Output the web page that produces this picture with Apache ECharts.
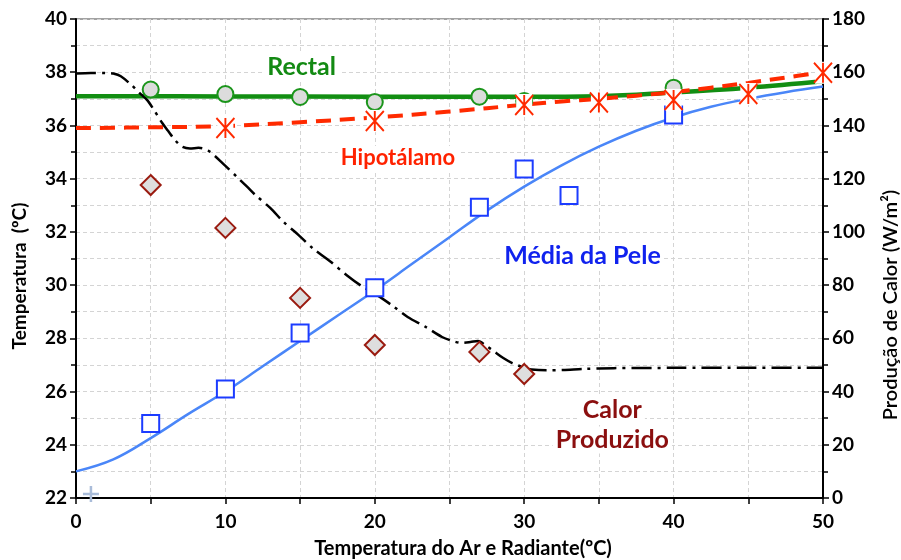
<!DOCTYPE html>
<html>
<head>
<meta charset="utf-8">
<script src="https://cdn.jsdelivr.net/npm/echarts@6/dist/echarts.min.js"></script>
<style>
  html, body { margin: 0; padding: 0; background: #fff; }
  #chart { width: 901px; height: 560px; }
</style>
</head>
<body>
<div id="chart"></div>
<script>
// Temperature axis (left) ticks and heat-production axis (right) ticks
const tempTicks = [22, 40, 2];
const heatTicks = [0, 180, 20];
const airTicks = [0, 50, 10];

// Rectal temperature: observed points and fitted curve
const rectalObs = [[5, 37.35], [10, 37.18], [15, 37.07], [20, 36.88], [27, 37.08], [30, 36.92], [40, 37.42]];
const rectalCurve = [[0, 37.1], [10, 37.09], [20, 37.08], [30, 37.08], [35, 37.1], [40, 37.24], [45, 37.42], [50, 37.66]];

// Hypothalamus temperature: observed points and fitted curve
const hypoObs = [[10, 35.9], [20, 36.17], [30, 36.77], [35, 36.86], [40, 36.96], [45, 37.18], [50, 37.98]];
const hypoCurve = [[0, 35.9], [5, 35.93], [10, 35.98], [15, 36.12], [20, 36.3], [25, 36.52], [30, 36.78],
  [32.5, 36.9], [35, 37.0], [37.5, 37.12], [40, 37.25], [42.5, 37.42], [45, 37.6], [47.5, 37.8], [50, 38.0]];

// Mean skin temperature: observed points and fitted curve
const skinObs = [[5, 24.8], [10, 26.1], [15, 28.2], [20, 29.9], [27, 32.93], [30, 34.36], [33, 33.37], [40, 36.39]];
const skinCurve = [[0, 23.0], [2.5, 23.45], [5, 24.25], [7.5, 25.15], [10, 26.0], [12.5, 26.95], [15, 27.9],
  [17.5, 28.85], [20, 29.8], [22.5, 30.8], [25, 31.8], [27.5, 32.8], [30, 33.7], [32.5, 34.5], [35, 35.2],
  [37.5, 35.8], [40, 36.3], [42.5, 36.7], [45, 37.0], [47.5, 37.25], [50, 37.46]];

// Heat produced (W/m²): observed points and fitted curve
const heatObs = [[5, 117.6], [10, 101.5], [15, 75.2], [20, 57.5], [27, 54.9], [30, 46.6]];
const heatCurve = [[0, 159.5], [1, 159.7], [2, 159.7], [2.5, 159.5], [3, 158.5], [3.75, 155], [4.2, 152.5],
  [4.75, 149.6], [5.2, 146], [5.76, 141], [6.16, 138], [6.63, 134.5], [7.1, 132], [7.63, 131.3], [8.2, 131.6],
  [8.84, 130.6], [10, 124.8], [10.84, 120.3], [11.45, 117], [12, 113.9], [13, 109], [13.9, 103.7], [14.9, 98.8],
  [15.9, 93.6], [17, 89], [18.1, 83.8], [19.1, 79.7], [20, 76.8], [21.2, 72.2], [22.2, 68], [23.4, 64.3],
  [24.5, 60.5], [25.2, 59], [25.8, 58.3], [26.4, 58.6], [26.9, 59], [27.5, 57], [28, 55], [28.6, 52.6],
  [29.2, 50.7], [30, 49], [30.5, 48.3], [31.5, 48], [32.6, 48.1], [34, 48.5], [36, 48.8], [40, 48.9],
  [45, 48.9], [50, 48.9]];

// Stray reference marker near the origin
const originMark = [[1, 1.5]];

// Curve annotations: text and anchor in data units [x, temperature]
const notes = [
  { text: 'Rectal', at: [15.1, 38.2], color: '#138a13', size: 25 },
  { text: 'Hipotálamo', at: [21.55, 34.78], color: '#ff2200', size: 22 },
  { text: 'Média da Pele', at: [33.9, 31.1], color: '#1022ee', size: 25 },
  { text: 'Calor', at: [35.9, 25.3], color: '#8b0f0f', size: 25 },
  { text: 'Produzido', at: [35.9, 24.18], color: '#8b0f0f', size: 25 }
];

const FONT = 'Lato, "Open Sans", sans-serif';
const gridDash = { color: '#d4d4d4', type: [4, 3], width: 1 };

const chart = echarts.init(document.getElementById('chart'), null, { renderer: 'canvas' });

const labelStyle = { color: '#000', fontFamily: FONT, fontWeight: 'bold', fontSize: 19 };

chart.setOption({
  animation: false,
  backgroundColor: '#fff',
  grid: { left: 76, right: 78, top: 19, bottom: 62, show: true, borderColor: '#444', borderWidth: 1 },
  xAxis: {
    type: 'value', min: airTicks[0], max: airTicks[1], interval: airTicks[2],
    axisLine: { lineStyle: { color: '#000', width: 2 } },
    axisTick: { length: 6, lineStyle: { color: '#000', width: 1.5 } },
    minorTick: { show: true, splitNumber: 2, length: 6, lineStyle: { color: '#000', width: 1.5 } },
    splitLine: { show: true, lineStyle: gridDash },
    minorSplitLine: { show: true, lineStyle: gridDash },
    axisLabel: Object.assign({ margin: 14 }, labelStyle)
  },
  yAxis: [{
    type: 'value', min: tempTicks[0], max: tempTicks[1], interval: tempTicks[2],
    axisLine: { show: true, lineStyle: { color: '#000', width: 2 } },
    axisTick: { show: true, length: 6, lineStyle: { color: '#000', width: 1.5 } },
    minorTick: { show: true, splitNumber: 2, length: 5, lineStyle: { color: '#000', width: 1.5 } },
    splitLine: { show: true, lineStyle: gridDash },
    minorSplitLine: { show: true, lineStyle: gridDash },
    axisLabel: Object.assign({ margin: 9 }, labelStyle)
  }, {
    type: 'value', position: 'right', min: heatTicks[0], max: heatTicks[1], interval: heatTicks[2],
    axisLine: { show: true, lineStyle: { color: '#000', width: 2 } },
    axisTick: { show: true, length: 6, lineStyle: { color: '#000', width: 1.5 } },
    minorTick: { show: true, splitNumber: 2, length: 5, lineStyle: { color: '#000', width: 1.5 } },
    splitLine: { show: false },
    axisLabel: Object.assign({ margin: 9 }, labelStyle)
  }],
  series: [
    {
      name: 'Rectal', type: 'line', data: rectalCurve, smooth: 0.4, symbol: 'none',
      lineStyle: { color: '#128e12', width: 4.5 }, z: 2
    },
    {
      name: 'Hipotálamo', type: 'line', data: hypoCurve, smooth: 0.4, symbol: 'none',
      lineStyle: { color: '#ff2a00', width: 4, type: [15, 9] }, z: 2
    },
    {
      name: 'Média da Pele', type: 'line', data: skinCurve, smooth: 0.4, symbol: 'none',
      lineStyle: { color: '#4a86f8', width: 2.5 }, z: 2
    },
    {
      name: 'Calor Produzido', type: 'line', yAxisIndex: 1, data: heatCurve, smooth: 0.3, symbol: 'none',
      lineStyle: { color: '#000', width: 2.5, type: [20, 6, 3, 6] }, z: 2
    },
    {
      name: 'Rectal obs', type: 'scatter', data: rectalObs, symbol: 'circle', symbolSize: 16,
      itemStyle: { color: '#dcdcdc', borderColor: '#1b951b', borderWidth: 2, opacity: 1 }, z: 3
    },
    {
      name: 'Pele obs', type: 'scatter', data: skinObs, symbol: 'rect', symbolSize: 17,
      itemStyle: { color: '#fff', borderColor: '#1c3cff', borderWidth: 2, opacity: 1 }, z: 3
    },
    {
      name: 'Calor obs', type: 'scatter', yAxisIndex: 1, data: heatObs, symbol: 'diamond', symbolSize: [20, 20],
      itemStyle: { color: '#dedede', borderColor: '#9a1b10', borderWidth: 2, opacity: 1 }, z: 3
    },
    {
      name: 'Hipotálamo fundo', type: 'scatter', data: hypoObs, symbol: 'rect', symbolSize: [16, 22],
      itemStyle: { color: '#fff', opacity: 1 }, z: 4, clip: false, silent: true
    },
    {
      name: 'Hipotálamo obs', type: 'scatter', data: hypoObs, symbol: 'path://M0,0L16,20M16,0L0,20M8,0L8,20',
      symbolSize: [18, 20], symbolKeepAspect: false, clip: false,
      itemStyle: { color: 'rgba(0,0,0,0)', borderColor: '#ff2a00', borderWidth: 2, opacity: 1 }, z: 5
    },
    {
      name: 'Origem', type: 'scatter', yAxisIndex: 1, data: originMark, symbol: 'path://M0,8L16,8M8,0L8,16',
      symbolSize: 16, clip: false,
      itemStyle: { color: 'rgba(0,0,0,0)', borderColor: '#a9bcd9', borderWidth: 2.5, opacity: 1 }, z: 5
    }
  ]
});

// Place annotations and axis titles from data coordinates
const graphics = notes.map(function (n) {
  const p = chart.convertToPixel({ xAxisIndex: 0, yAxisIndex: 0 }, n.at);
  return {
    type: 'text', x: p[0], y: p[1], z: 10,
    style: {
      text: n.text, fill: n.color, font: 'bold ' + n.size + 'px ' + FONT,
      align: 'center', verticalAlign: 'middle',
      backgroundColor: '#fff', padding: [1, 3]
    }
  };
});
graphics.push({
  type: 'text', x: 20, y: 276, rotation: Math.PI / 2,
  style: { text: 'Temperatura  (ºC)', fill: '#000', font: 'bold 19px ' + FONT, align: 'center', verticalAlign: 'middle' }
});
graphics.push({
  type: 'text', x: 891, y: 305, rotation: Math.PI / 2,
  style: { text: 'Produção de Calor (W/m²)', fill: '#000', font: '600 20px ' + FONT, align: 'center', verticalAlign: 'middle' }
});
graphics.push({
  type: 'text', x: 463, y: 549,
  style: { text: 'Temperatura do Ar e Radiante(ºC)', fill: '#000', font: 'bold 20px ' + FONT, align: 'center', verticalAlign: 'middle' }
});
chart.setOption({ graphic: graphics });
</script>
</body>
</html>
